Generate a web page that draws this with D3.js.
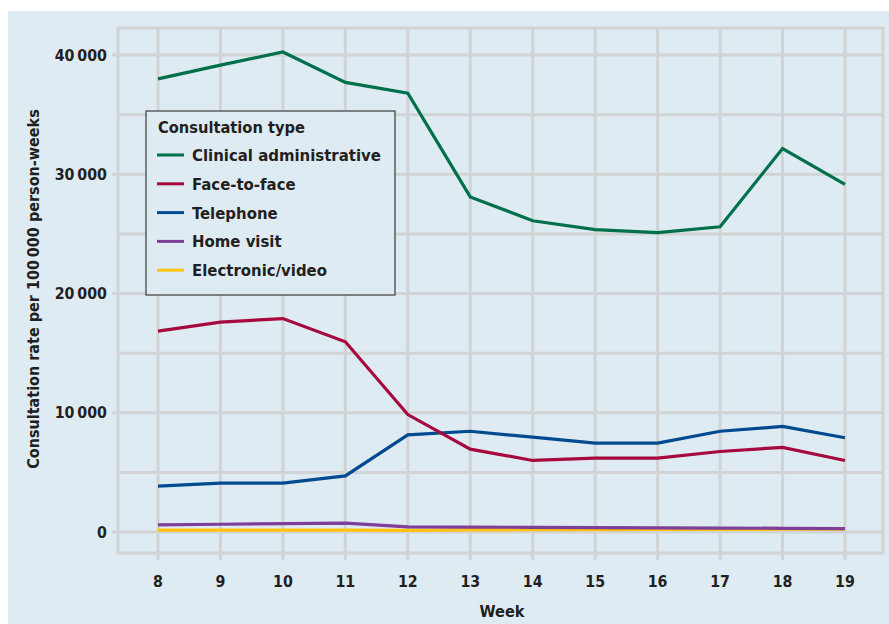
<!DOCTYPE html>
<html><head><meta charset="utf-8">
<script src="https://cdn.jsdelivr.net/npm/d3@7"></script>
<style>
html,body{margin:0;padding:0;background:#fff;}
text{font-family:"DejaVu Sans Condensed","DejaVu Sans",sans-serif;font-stretch:condensed;font-weight:700;fill:#231f20;}
</style></head>
<body>
<svg id="chart" width="889" height="624"></svg>
<script>
const weeks = [8, 9, 10, 11, 12, 13, 14, 15, 16, 17, 18, 19];
const clinicalAdmin = [38000, 39150, 40250, 37700, 36800, 28100, 26100, 25350, 25100, 25600, 32150, 29150];
const faceToFace = [16850, 17600, 17900, 15950, 9850, 6950, 6000, 6200, 6200, 6750, 7100, 6000];
const telephone = [3850, 4100, 4100, 4700, 8150, 8450, 7950, 7450, 7450, 8450, 8850, 7900];
const homeVisit = [600, 650, 700, 750, 430, 410, 390, 370, 350, 330, 310, 290];
const electronicVideo = [150, 150, 160, 160, 140, 170, 190, 200, 210, 220, 230, 240];
const seriesNames = ["Clinical administrative", "Face-to-face", "Telephone", "Home visit", "Electronic/video"];
const seriesColors = ["#00704a", "#a6093d", "#004a8f", "#7d3f98", "#ffc20e"];
const yTicks = [0, 10000, 20000, 30000, 40000];
const yGrid = [0, 5000, 10000, 15000, 20000, 25000, 30000, 35000, 40000];

const series = [clinicalAdmin, faceToFace, telephone, homeVisit, electronicVideo];

const svg = d3.select("#chart");
svg.append("rect").attr("x", 8).attr("y", 11).attr("width", 881).attr("height", 613).attr("fill", "#deebf2");

const x = d3.scaleLinear().domain([8, 19]).range([158, 845]);
const y = d3.scaleLinear().domain([0, 40000]).range([532, 55]);
const xMin = x.invert(118), xMax = x.invert(883);
const yMin = y.invert(553), yMax = y.invert(28);

const gridColor = "#d1d3d4";
const g = svg.append("g");
g.selectAll("line.h").data(yGrid).enter().append("line")
  .attr("x1", d => yTicks.includes(d) ? x(xMin) - 6 : x(xMin)).attr("x2", x(xMax))
  .attr("y1", d => y(d)).attr("y2", d => y(d))
  .attr("stroke", gridColor).attr("stroke-width", 3);
g.selectAll("line.v").data(weeks).enter().append("line")
  .attr("x1", d => x(d)).attr("x2", d => x(d))
  .attr("y1", y(yMax)).attr("y2", y(yMin) + 7)
  .attr("stroke", gridColor).attr("stroke-width", 3);
g.append("rect").attr("x", x(xMin)).attr("y", y(yMax))
  .attr("width", x(xMax) - x(xMin)).attr("height", y(yMin) - y(yMax))
  .attr("fill", "none").attr("stroke", gridColor).attr("stroke-width", 3);

const fmt = d => d === 0 ? "0" : d3.format(",")(d).replace(",", "\u2009");
g.selectAll("text.yt").data(yTicks).enter().append("text")
  .attr("x", 107).attr("y", d => y(d)).attr("dy", "0.36em")
  .attr("text-anchor", "end").attr("font-size", 15.8).text(fmt);
g.selectAll("text.xt").data(weeks).enter().append("text")
  .attr("x", d => x(d)).attr("y", 587).attr("text-anchor", "middle")
  .attr("font-size", 15.8).text(d => d);
svg.append("text").attr("x", 502).attr("y", 617).attr("text-anchor", "middle")
  .attr("font-size", 16.2).text("Week");
svg.append("text").attr("transform", "translate(39,289) rotate(-90)")
  .attr("text-anchor", "middle").attr("font-size", 16)
  .text("Consultation rate per 100\u2009000 person-weeks");

const line = d3.line().x((d, i) => x(weeks[i])).y(d => y(d));
const order = [4, 3, 2, 1, 0];
order.forEach(k => {
  svg.append("path").datum(series[k]).attr("d", line)
    .attr("fill", "none").attr("stroke", seriesColors[k]).attr("stroke-width", 3.2)
    .attr("stroke-linejoin", "miter");
});

const lg = svg.append("g");
lg.append("rect").attr("x", 146).attr("y", 111).attr("width", 249).attr("height", 184)
  .attr("fill", "#deebf2").attr("stroke", "#3a3a3a").attr("stroke-width", 1.2);
lg.append("text").attr("x", 158).attr("y", 133).attr("font-size", 16.3).text("Consultation type");
seriesNames.forEach((n, i) => {
  const cy = 155 + i * 28.8;
  lg.append("line").attr("x1", 157).attr("x2", 184).attr("y1", cy).attr("y2", cy)
    .attr("stroke", seriesColors[i]).attr("stroke-width", 3);
  lg.append("text").attr("x", 192).attr("y", cy).attr("dy", "0.36em").attr("font-size", 16.6).text(n);
});
</script>
</body></html>
